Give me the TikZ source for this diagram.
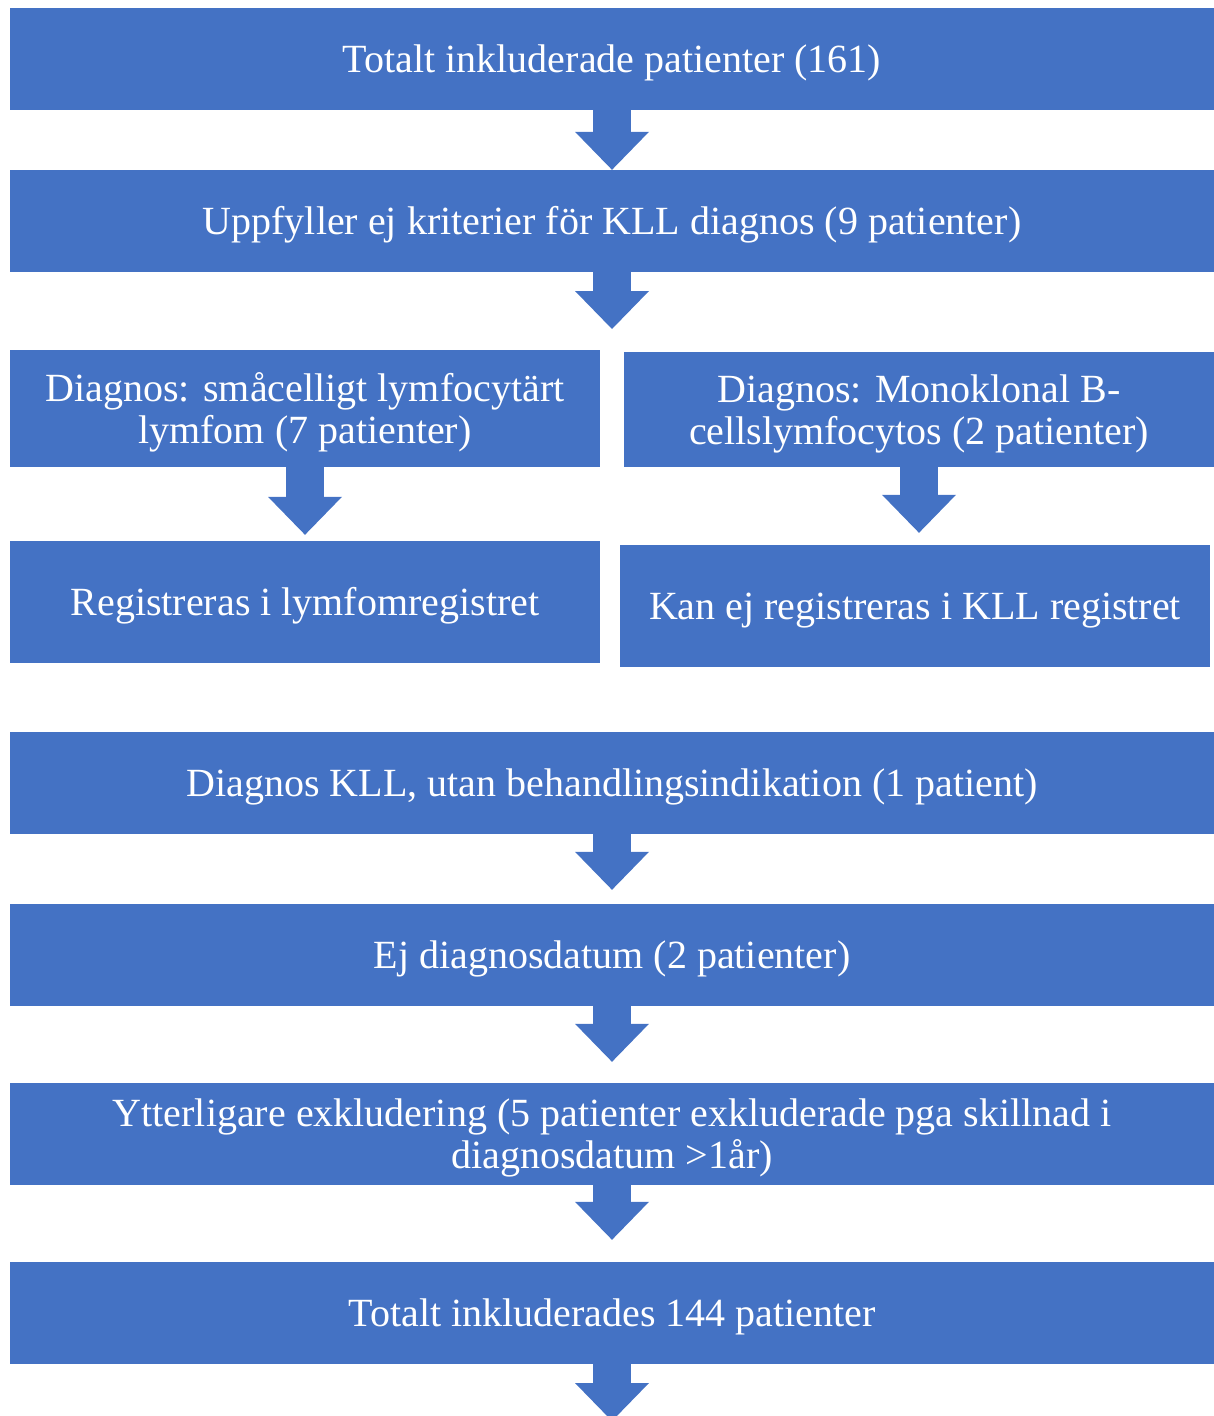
\documentclass[tikz,border=0pt]{standalone}
\usepackage{fontspec}
\setmainfont{Liberation Serif}
\usetikzlibrary{arrows.meta}
\definecolor{boxblue}{RGB}{68, 114, 196}
\tikzstyle{stepbox} = [rectangle, fill=boxblue, text=white,
                       inner sep=0pt, minimum width=1204pt,
                       minimum height=102pt, align=center,
                       text height=36pt, text depth=9pt,
                       font=\fontsize{40}{42}\selectfont]
\tikzstyle{halfbox} = [stepbox, minimum width=590pt]
\tikzstyle{twoline} = [text height=78pt]
\tikzstyle{blockarrow} = [draw=boxblue, line width=38pt,
                          -{Triangle[width=74pt, length=38pt, line width=0pt, fill=boxblue]}]

\begin{document}
\begin{tikzpicture}[x=1pt, y=-1pt]
        \useasboundingbox (0,0) rectangle (1214,1416);

        \node (Total) [stepbox] at (612,59) {Totalt inkluderade patienter (161)};
        \node (NotKLL) [stepbox] at (612,221) {Uppfyller ej kriterier för KLL diagnos (9 patienter)};

        \node (SLL) [halfbox, twoline, minimum height=117pt] at (305,408.5) {Diagnos: småcelligt lymfocytärt\\lymfom (7 patienter)};
        \node (MBL) [halfbox, twoline, minimum height=115pt] at (919,409.5) {Diagnos: Monoklonal B-\\cellslymfocytos (2 patienter)};
        \node (LymReg) [halfbox, minimum height=122pt] at (305,602) {Registreras i lymfomregistret};
        \node (NoReg) [halfbox, minimum height=122pt] at (915,606) {Kan ej registreras i KLL registret};

        \node (NoInd) [stepbox] at (612,783) {Diagnos KLL, utan behandlingsindikation (1 patient)};
        \node (NoDate) [stepbox] at (612,955) {Ej diagnosdatum (2 patienter)};
        \node (Extra) [stepbox, twoline] at (612,1134) {Ytterligare exkludering (5 patienter exkluderade pga skillnad i\\diagnosdatum >1år)};
        \node (Final) [stepbox] at (612,1313) {Totalt inkluderades 144 patienter};

        \coordinate (SplitTip) at (612,329);
        \coordinate (EndTip) at (612,1421);

        \draw [blockarrow] (Total) -- (NotKLL);
        \draw [blockarrow] (NotKLL) -- (SplitTip); %split
        \draw [blockarrow, shorten >=6pt] (SLL) -- (LymReg);
        \draw [blockarrow, shorten >=12pt] (MBL.south) -- (MBL.south |- NoReg.north);
        \draw [blockarrow, shorten >=14pt] (NoInd) -- (NoDate);
        \draw [blockarrow, shorten >=21pt] (NoDate) -- (Extra);
        \draw [blockarrow, shorten >=22pt] (Extra) -- (Final);
        \draw [blockarrow] (Final) -- (EndTip); %runs off the page

\end{tikzpicture}
\end{document}
